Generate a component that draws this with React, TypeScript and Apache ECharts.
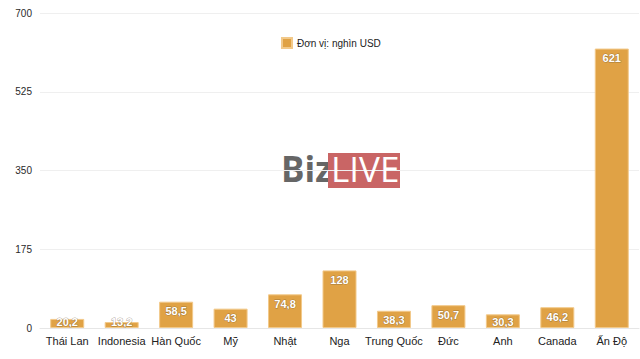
import React, { useEffect, useRef } from "react";
import * as echarts from "echarts";

const categories = ["Thái Lan", "Indonesia", "Hàn Quốc", "Mỹ", "Nhật", "Nga", "Trung Quốc", "Đức", "Anh", "Canada", "Ấn Độ"];
const values = [20.2, 13.2, 58.5, 43, 74.8, 128, 38.3, 50.7, 30.3, 46.2, 621];
const seriesName = "Đơn vị: nghìn USD";
// short bars keep their label pinned near the baseline (like the source chart)
const smallLabelLimit = 35;

export default function App() {
  const ref = useRef<HTMLDivElement>(null);
  useEffect(() => {
    if (!ref.current) return;
    const chart = echarts.init(ref.current, null, { renderer: "svg" });
    const font = "Liberation Sans, Arial, sans-serif";
    const data = values.map((v) =>
      v < smallLabelLimit
        ? { value: v, label: { position: "insideBottom", distance: 1 } }
        : { value: v }
    );
    chart.setOption({
      animation: false,
      backgroundColor: "#ffffff",
      textStyle: { fontFamily: font },
      legend: {
        top: 32,
        left: 276,
        itemWidth: 10,
        itemHeight: 10,
        itemGap: 6,
        icon: "rect",
        textStyle: { fontSize: 10, color: "#222", fontFamily: font },
        data: [seriesName],
      },
      grid: { left: 40, right: 1, top: 13, bottom: 31, containLabel: false },
      xAxis: {
        type: "category",
        data: categories,
        axisTick: { show: false },
        axisLine: { lineStyle: { color: "#e6e6e6" } },
        axisLabel: { fontSize: 11, lineHeight: 12, color: "#222", fontWeight: "normal", margin: 7, interval: 0, fontFamily: font },
      },
      yAxis: {
        type: "value",
        min: 0,
        max: 700,
        interval: 175,
        axisLine: { show: false },
        axisTick: { show: false },
        splitLine: { lineStyle: { color: "#efefef" } },
        axisLabel: { fontSize: 10, color: "#2a2a2a", margin: 8, fontFamily: font },
      },
      graphic: [
        {
          type: "text",
          left: 281,
          top: 151,
          z: 0,
          style: { text: "Biz", fontSize: 35, fontWeight: "bold", fill: "#666666", fontFamily: "Open Sans, sans-serif" },
        },
        {
          type: "rect",
          shape: { x: 328, y: 153, width: 72, height: 35 },
          z: 0,
          style: { fill: "#c96565" },
        },
        {
          type: "text",
          left: 331,
          top: 151,
          z: 1,
          style: { text: "LIVE", fontSize: 35, fontWeight: "normal", fill: "#ffffff", fontFamily: "Open Sans, sans-serif" },
        },
      ],
      series: [
        {
          name: seriesName,
          type: "bar",
          data,
          barWidth: 34,
          itemStyle: { color: "#e0a245", borderColor: "#f2c98a", borderWidth: 1 },
          label: {
            show: true,
            position: "insideTop",
            distance: 4,
            color: "#ffffff",
            fontSize: 11,
            lineHeight: 11,
            fontWeight: "bold",
            fontFamily: font,
            textBorderColor: "rgba(90,70,40,0.45)",
            textBorderWidth: 1,
            formatter: (p: any) => String(p.value).replace(".", ","),
          },
        },
      ],
    });
    return () => chart.dispose();
  }, []);
  return <div ref={ref} style={{ position: "fixed", left: 0, top: 0, width: 640, height: 359 }} />;
}
